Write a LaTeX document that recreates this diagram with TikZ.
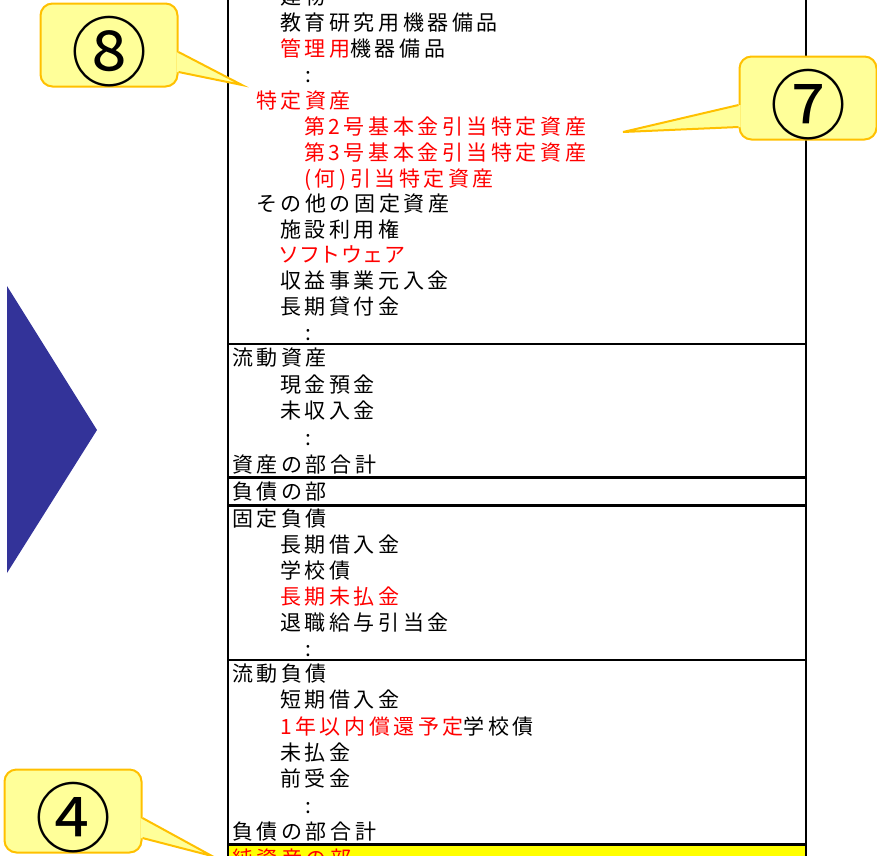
\documentclass[tikz,border=0pt]{standalone}
\usepackage{fontspec}
\usepackage{xcolor}
\newfontfamily\jp{Noto Sans CJK JP}[LetterSpace=17]
\definecolor{calloutfill}{HTML}{FFFF99}
\definecolor{calloutline}{HTML}{FFC000}
\definecolor{arrowblue}{HTML}{333399}
\definecolor{rowyellow}{HTML}{FFFF00}
\tikzset{
	item/.style={anchor=base west, inner sep=0pt, font=\jp\fontsize{21}{21}\selectfont},
	reditem/.style={item, text=red},
	callbox/.style={draw=calloutline, fill=calloutfill, line width=2pt, rounded corners=12pt,
		minimum width=137pt, minimum height=83pt, inner sep=0pt,
		text height=74pt, text depth=4pt, font=\jp\fontsize{76}{76}\selectfont},
	pointer/.style={draw=calloutline, line width=2pt, line join=miter},
	rule/.style={line width=2pt},
	thickrule/.style={line width=3pt}
}

\begin{document}
\begin{tikzpicture}[x=1pt, y=-1pt]
	\useasboundingbox (0,0) rectangle (877,855);
	\clip (0,0) rectangle (877,855);
	
	\fill[rowyellow] (228,844) rectangle (806,860);
	
	\draw[rule] (228,344) -- (806,344);
	\draw[thickrule] (228,477) -- (806,477);
	\draw[thickrule] (228,505) -- (806,505);
	\draw[rule] (228,660) -- (806,660);
	\draw[thickrule] (228,844) -- (806,844);
	\draw[line width=2.5pt] (228,-5) -- (228,860);
	\draw[line width=2.5pt] (806,-5) -- (806,860);
	
	\node[item] (bld) at (280,4) {建物};
	\node[item] (edu) at (280,30) {教育研究用機器備品};
	\node[item] (adm) at (280,56) {\textcolor{red}{管理用}機器備品};
	\node[item] (dot1) at (305,82) {:};
	\node[reditem] (spc) at (256,108) {特定資産};
	\node[reditem] (spc2) at (304,134) {第2号基本金引当特定資産};
	\node[reditem] (spc3) at (304,160) {第3号基本金引当特定資産};
	\node[reditem] (spcx) at (304,186) {(何)引当特定資産};
	\node[item] (oth) at (256,211) {その他の固定資産};
	\node[item] (fac) at (280,237) {施設利用権};
	\node[reditem] (sw) at (280,262) {\addfontfeature{RawFeature=+palt}ソフトウェア};
	\node[item] (biz) at (280,288) {収益事業元入金};
	\node[item] (loan) at (280,314) {長期貸付金};
	\node[item] (dot2) at (305,340) {:};
	
	\node[item] (cur) at (232,365) {流動資産};
	\node[item] (cash) at (280,392) {現金預金};
	\node[item] (recv) at (280,418) {未収入金};
	\node[item] (dot3) at (305,445) {:};
	\node[item] (atot) at (232,472) {資産の部合計};
	
	\node[item] (liab) at (232,499) {負債の部};
	
	\node[item] (fixl) at (232,526) {固定負債};
	\node[item] (ltb) at (280,552) {長期借入金};
	\node[item] (bond) at (280,578) {学校債};
	\node[reditem] (ltp) at (280,604) {長期未払金};
	\node[item] (ret) at (280,630) {退職給与引当金};
	\node[item] (dot4) at (305,656) {:};
	
	\node[item] (curl) at (232,681) {流動負債};
	\node[item] (stb) at (280,707) {短期借入金};
	\node[item] (bond1) at (280,734) {\textcolor{red}{1年以内償還予定}学校債};
	\node[item] (pay) at (280,760) {未払金};
	\node[item] (adv) at (280,786) {前受金};
	\node[item] (dot5) at (305,813) {:};
	\node[item] (ltot) at (232,839) {負債の部合計};
	\node[reditem] (net) at (232,866) {純資産の部};
	
	\fill[arrowblue] (7,286) -- (97,430) -- (7,573) -- cycle;
	
	\node[callbox] (c8) at (109,45) {⑧};
	\coordinate (t8) at (242,85);
	\fill[calloutfill] ([xshift=-2pt,yshift=-7pt]c8.east) -- (t8) -- ([xshift=-2pt,yshift=-27pt]c8.east) -- cycle;
	\draw[pointer] ([yshift=-7pt]c8.east) -- (t8) -- ([yshift=-27pt]c8.east);
	
	\node[callbox] (c7) at (808,98) {⑦};
	\coordinate (t7) at (623,132);
	\fill[calloutfill] ([xshift=2pt,yshift=-7pt]c7.west) -- (t7) -- ([xshift=2pt,yshift=-29pt]c7.west) -- cycle;
	\draw[pointer] ([yshift=-7pt]c7.west) -- (t7) -- ([yshift=-29pt]c7.west);
	
	\node[callbox] (c4) at (73,811) {④};
	\coordinate (t4) at (212,856);
	\fill[calloutfill] ([xshift=-2pt,yshift=-7pt]c4.east) -- (t4) -- ([xshift=-2pt,yshift=-27pt]c4.east) -- cycle;
	\draw[pointer] ([yshift=-7pt]c4.east) -- (t4) -- ([yshift=-27pt]c4.east);
	
\end{tikzpicture}
\end{document}
